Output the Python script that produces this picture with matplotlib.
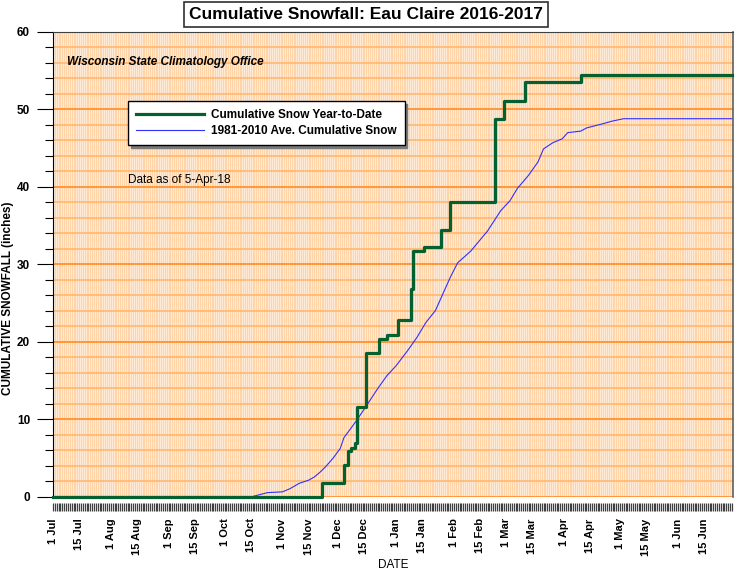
"""
Cumulative snowfall at Eau Claire, season 2016-2017, against the 1981-2010 normal.
"""

import matplotlib

matplotlib.use("Agg")
import matplotlib.dates as mdates
import matplotlib.pyplot as plt
import pandas as pd
from matplotlib.ticker import FuncFormatter, MultipleLocator

# Сезонная сумма снега (дюймы): дата, с которой действует новое значение
season_dates = [
    "2016-07-01", "2016-11-22", "2016-12-04", "2016-12-06", "2016-12-08",
    "2016-12-10", "2016-12-11", "2016-12-16", "2016-12-23", "2016-12-27",
    "2017-01-02", "2017-01-09", "2017-01-10", "2017-01-16", "2017-01-25",
    "2017-01-30", "2017-02-23", "2017-02-28", "2017-03-11", "2017-04-10",
    "2017-06-30",
]
season_totals = [
    0.0, 1.7, 4.1, 5.9, 6.3,
    6.9, 11.5, 18.6, 20.3, 20.8,
    22.8, 26.8, 31.7, 32.2, 34.4,
    38.1, 48.8, 51.1, 53.5, 54.5,
    54.5,
]

# Норма 1981-2010 (накопленная)
normal_dates = [
    "2016-07-01", "2016-10-16", "2016-10-24", "2016-11-01", "2016-11-05",
    "2016-11-10", "2016-11-15", "2016-11-18", "2016-11-21", "2016-11-24",
    "2016-11-28", "2016-12-02", "2016-12-04", "2016-12-08", "2016-12-11",
    "2016-12-16", "2016-12-22", "2016-12-27", "2017-01-01", "2017-01-07",
    "2017-01-12", "2017-01-17", "2017-01-22", "2017-01-30", "2017-02-03",
    "2017-02-10", "2017-02-19", "2017-02-26", "2017-03-03", "2017-03-07",
    "2017-03-13", "2017-03-18", "2017-03-21", "2017-03-26", "2017-03-31",
    "2017-04-03", "2017-04-10", "2017-04-13", "2017-04-21", "2017-04-27",
    "2017-05-03", "2017-06-30",
]
normal_totals = [
    0.0, 0.0, 0.5, 0.6, 1.0,
    1.7, 2.1, 2.5, 3.1, 3.8,
    4.9, 6.2, 7.6, 8.9, 9.9,
    11.7, 13.9, 15.6, 16.9, 18.8,
    20.5, 22.5, 24.0, 28.3, 30.2,
    31.7, 34.3, 36.9, 38.2, 39.8,
    41.5, 43.2, 44.9, 45.7, 46.2,
    47.0, 47.2, 47.6, 48.1, 48.5,
    48.8, 48.8,
]

plt.rcParams["font.family"] = ["Liberation Sans", "DejaVu Sans"]

W, H = 736, 573
fig = plt.figure(figsize=(W / 100, H / 100), dpi=100)
ax = fig.add_axes([53 / W, 1 - 496.5 / H, 680 / W, 464.5 / H])
ax.set_facecolor("#FFEAD5")

season_x = pd.to_datetime(season_dates)
normal_x = pd.to_datetime(normal_dates)

ax.plot(normal_x, normal_totals, color="#3030FF", lw=0.8, zorder=4, clip_on=False,
        label="1981-2010 Ave. Cumulative Snow")
ax.plot(season_x, season_totals, color="#056030", lw=2.3, drawstyle="steps-post",
        zorder=5, clip_on=False, label="Cumulative Snow Year-to-Date")

ax.set_xlim(mdates.date2num(pd.Timestamp("2016-07-01")),
            mdates.date2num(pd.Timestamp("2017-07-01")) - 0.4)
ax.set_ylim(0, 60)

# Оси и сетка
ax.xaxis.set_major_locator(mdates.DayLocator(bymonthday=[1, 15]))
ax.xaxis.set_minor_locator(mdates.DayLocator())
ax.xaxis.set_major_formatter(
    FuncFormatter(lambda v, pos: f"{mdates.num2date(v).day} {mdates.num2date(v):%b}"))
ax.yaxis.set_major_locator(MultipleLocator(10))
ax.yaxis.set_minor_locator(MultipleLocator(2))

ax.xaxis.grid(True, which="both", color="#FFCE9C", lw=0.55, zorder=0)
ax.yaxis.grid(True, which="major", color="#FF9230", lw=1.3, zorder=1)
ax.yaxis.grid(True, which="minor", color="#FFB468", lw=1.1, zorder=1)
ax.set_axisbelow(True)

ax.tick_params(axis="x", which="both", direction="out", length=6, width=0.9,
               color="#404040", pad=5, labelsize=8, labelrotation=90)
ax.tick_params(axis="y", which="major", direction="out", length=11.5, width=0.8,
               color="black", pad=5, labelsize=8.5)
ax.tick_params(axis="y", which="minor", direction="out", length=5.8, width=0.8,
               color="black")

ax.spines["bottom"].set_position(("outward", 4.7))
ax.spines["bottom"].set_visible(False)
ax.spines["left"].set_color("black")
ax.spines["top"].set_color("#404040")
ax.spines["right"].set_color("#606060")
ax.spines["right"].set_linewidth(1.2)

# Подписи
fig.text(366 / W, 1 - 14.5 / H, "Cumulative Snowfall: Eau Claire 2016-2017",
         ha="center", va="center", fontsize=12.5, fontweight="bold",
         bbox=dict(boxstyle="square,pad=0.3", fc="white", ec="#303030", lw=1.2))
fig.text(8 / W, 1 - 298 / H, "CUMULATIVE SNOWFALL (inches)", rotation=90,
         ha="center", va="center", fontsize=8.5, fontweight="bold")
fig.text(393 / W, 1 - 565 / H, "DATE", ha="center", va="center", fontsize=8.5)
fig.text(67 / W, 1 - 62 / H, "Wisconsin State Climatology Office", ha="left",
         va="center", fontsize=8.5, fontweight="bold", fontstyle="italic")
fig.text(128 / W, 1 - 180 / H, "Data as of 5-Apr-18", ha="left", va="center",
         fontsize=8.5)

handles, labels = ax.get_legend_handles_labels()
leg = ax.legend(handles[::-1], labels[::-1], loc="upper left",
                bbox_to_anchor=(128 / W, 1 - 101 / H), bbox_transform=fig.transFigure,
                borderaxespad=0, fancybox=False, edgecolor="black",
                shadow={"color": "#7A7A7A", "alpha": 1.0},
                handlelength=5.7, handletextpad=0.6, borderpad=0.7, labelspacing=0.3,
                prop={"size": 8.5, "weight": "bold"}, framealpha=1)
leg.get_frame().set_linewidth(1.0)

# Жирные подписи делений — после отрисовки, когда все метки уже созданы
fig.canvas.draw()
for lbl in ax.get_xticklabels() + ax.get_yticklabels():
    lbl.set_fontweight("bold")

fig.savefig("out.png", dpi=100)
